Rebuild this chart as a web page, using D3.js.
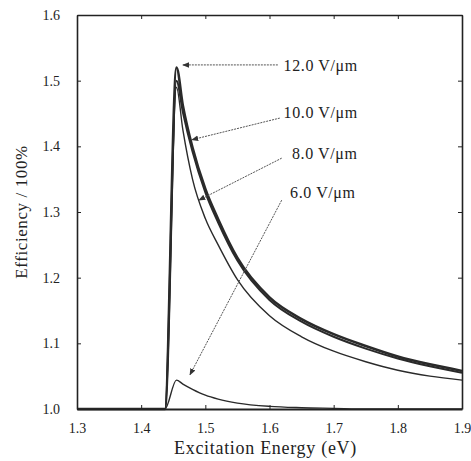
<!DOCTYPE html>
<html>
<head>
<meta charset="utf-8">
<script src="https://cdn.jsdelivr.net/npm/d3@7"></script>
<style>
  body { margin: 0; background: #fff; }
  svg text { font-family: "Liberation Serif", "DejaVu Serif", serif; fill: #222; }
</style>
</head>
<body>
<svg id="chart" width="471" height="461"></svg>
<script>
// excitation energy grid (eV)
const energy = [1.30, 1.437, 1.455, 1.465, 1.48, 1.50, 1.52, 1.55, 1.60, 1.65, 1.70, 1.75, 1.80, 1.85, 1.90];

// efficiency / 100% per field strength
const eff12 = [1.0, 1.0, 1.52, 1.462, 1.398, 1.335, 1.289, 1.230, 1.170, 1.137, 1.114, 1.096, 1.080, 1.068, 1.058];
const eff10 = [1.0, 1.0, 1.50, 1.452, 1.392, 1.330, 1.284, 1.226, 1.166, 1.133, 1.110, 1.092, 1.077, 1.065, 1.055];
const eff8  = [1.0, 1.0, 1.49, 1.425, 1.350, 1.290, 1.250, 1.197, 1.142, 1.110, 1.088, 1.072, 1.059, 1.050, 1.044];
const eff6  = [1.0, 1.0, 1.044, 1.038, 1.030, 1.021, 1.015, 1.009, 1.004, 1.002, 1.001, 1.0, 1.0, 1.0, 1.0];

const xTicks = [1.3, 1.4, 1.5, 1.6, 1.7, 1.8, 1.9];
const yTicks = [1.0, 1.1, 1.2, 1.3, 1.4, 1.5, 1.6];

// annotation: label, label anchor (E, eff), arrow start, arrow tip
const labels = ["12.0 V/\u03bcm", "10.0 V/\u03bcm", "8.0 V/\u03bcm", "6.0 V/\u03bcm"];
const labelPos = [[1.622, 1.521], [1.622, 1.448], [1.635, 1.387], [1.632, 1.327]];
const arrowFrom = [[1.613, 1.524], [1.616, 1.443], [1.619, 1.382], [1.619, 1.318]];
const arrowTo = [[1.465, 1.524], [1.479, 1.410], [1.490, 1.318], [1.476, 1.052]];

const svg = d3.select("#chart");
const margin = { top: 15, right: 9, bottom: 52, left: 77 };
const W = 471, H = 461;

const x = d3.scaleLinear().domain([1.3, 1.9]).range([margin.left, W - margin.right]);
const y = d3.scaleLinear().domain([1.0, 1.6]).range([H - margin.bottom, margin.top]);

const defs = svg.append("defs");
defs.append("marker")
    .attr("id", "arrow")
    .attr("viewBox", "0 0 10 10")
    .attr("refX", 9).attr("refY", 5)
    .attr("markerWidth", 7).attr("markerHeight", 7)
    .attr("markerUnits", "userSpaceOnUse")
    .attr("orient", "auto")
    .append("path")
    .attr("d", "M0,1 L10,5 L0,9 Z")
    .attr("fill", "#333");

// curves
const line = d3.line()
    .x((d, i) => x(energy[i]))
    .y(d => y(d))
    .curve(d3.curveMonotoneX);

const series = [
    { v: eff6, w: 1.4 },
    { v: eff8, w: 1.4 },
    { v: eff10, w: 2.0 },
    { v: eff12, w: 2.6 }
];
svg.append("g").selectAll("path")
    .data(series)
    .join("path")
    .attr("d", d => line(d.v))
    .attr("fill", "none")
    .attr("stroke", "#2a2a2a")
    .attr("stroke-width", d => d.w)
    .attr("stroke-linejoin", "round");

// frame with inward ticks
const gx = svg.append("g").attr("transform", `translate(0,${y(1.0)})`)
    .call(d3.axisBottom(x).tickValues(xTicks).tickSizeInner(-4).tickSizeOuter(0).tickPadding(14).tickFormat(d3.format(".1f")));
const gxTop = svg.append("g").attr("transform", `translate(0,${y(1.6)})`)
    .call(d3.axisTop(x).tickValues(xTicks).tickSizeInner(-4).tickSizeOuter(0).tickFormat(""));
const gy = svg.append("g").attr("transform", `translate(${x(1.3)},0)`)
    .call(d3.axisLeft(y).tickValues(yTicks).tickSizeInner(-4).tickSizeOuter(0).tickPadding(17).tickFormat(d3.format(".1f")));
const gyR = svg.append("g").attr("transform", `translate(${x(1.9)},0)`)
    .call(d3.axisRight(y).tickValues(yTicks).tickSizeInner(-4).tickSizeOuter(0).tickFormat(""));

[gx, gxTop, gy, gyR].forEach(g => {
    g.attr("font-family", null);
    g.select(".domain").attr("stroke", "#222").attr("stroke-width", 1.6);
    g.selectAll(".tick line").attr("stroke", "#222");
    g.selectAll(".tick text").attr("font-size", 14).attr("fill", "#222");
});
gx.select(".domain").attr("stroke-width", 2.2);

// axis titles
svg.append("text")
    .attr("x", (x(1.3) + x(1.9)) / 2 - 4)
    .attr("y", 454)
    .attr("text-anchor", "middle")
    .attr("font-size", 18)
    .attr("letter-spacing", 0.7)
    .text("Excitation Energy (eV)");

svg.append("text")
    .attr("transform", `translate(27,${(y(1.0) + y(1.6)) / 2}) rotate(-90)`)
    .attr("text-anchor", "middle")
    .attr("font-size", 17)
    .attr("letter-spacing", 0.6)
    .text("Efficiency / 100%");

// annotations
const ann = svg.append("g");
ann.selectAll("line")
    .data(labels)
    .join("line")
    .attr("x1", (d, i) => x(arrowFrom[i][0]))
    .attr("y1", (d, i) => y(arrowFrom[i][1]))
    .attr("x2", (d, i) => x(arrowTo[i][0]))
    .attr("y2", (d, i) => y(arrowTo[i][1]))
    .attr("stroke", "#555")
    .attr("stroke-width", 1)
    .attr("stroke-dasharray", "2,1")
    .attr("marker-end", "url(#arrow)");

ann.selectAll("text")
    .data(labels)
    .join("text")
    .attr("x", (d, i) => x(labelPos[i][0]))
    .attr("y", (d, i) => y(labelPos[i][1]))
    .attr("dominant-baseline", "middle")
    .attr("font-size", 16)
    .attr("letter-spacing", 0.6)
    .text(d => d);
</script>
</body>
</html>
